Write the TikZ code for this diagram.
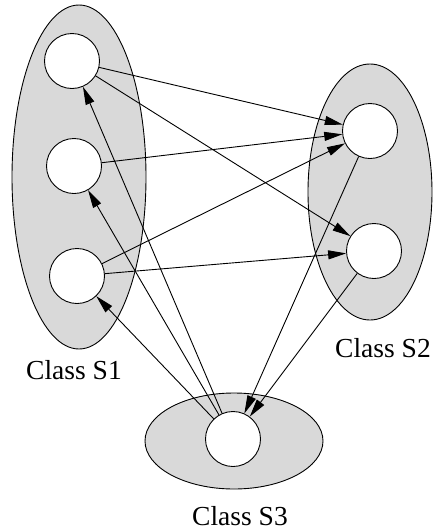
\documentclass[tikz,border=0pt]{standalone}
\usepackage{fontspec}
\setmainfont{Liberation Serif}
\usetikzlibrary{arrows.meta}
\definecolor{clsfill}{RGB}{217,217,217}
\begin{document}
\begin{tikzpicture}[x=1pt,y=-1pt,
  every path/.style={line width=0.9pt},
  cls/.style={draw=black,fill=clsfill},
  obj/.style={circle,draw=black,fill=white,line width=0.9pt,minimum size=55pt,inner sep=0pt},
  link/.style={draw=black,line width=0.9pt,-{Triangle[length=18pt,width=9pt]}},
  lab/.style={anchor=base,inner sep=0pt,font=\fontsize{27.5}{30}\selectfont}]
\useasboundingbox (0,0) rectangle (433,531);
% class ellipses
\draw[cls] (79,177) ellipse [x radius=67, y radius=172];
\draw[cls] (370,192) ellipse [x radius=62, y radius=128];
\draw[cls] (234,441) ellipse [x radius=89, y radius=48];
% objects
\node[obj] (s1a) at (72,61) {};
\node[obj] (s1b) at (74,166) {};
\node[obj] (s1c) at (77,276) {};
\node[obj] (s2a) at (370,131) {};
\node[obj] (s2b) at (374,251) {};
\node[obj] (s3)  at (233,439) {};
% links
\draw[link] (s1a) -- (s2a);
\draw[link] (s1a) -- (s2b);
\draw[link] (s1b) -- (s2a);
\draw[link] (s1c) -- (s2a);
\draw[link] (s1c) -- (s2b);
\draw[link] (s3) -- (s1a);
\draw[link] (s3) -- (s1b);
\draw[link] (s3) -- (s1c);
\draw[link] (s2a) -- (s3);
\draw[link] (s2b) -- (s3);
% labels
\node[lab] (l1) at (74,379) {Class S1};
\node[lab] (l2) at (383,357) {Class S2};
\node[lab] (l3) at (240,525) {Class S3};
\end{tikzpicture}
\end{document}
